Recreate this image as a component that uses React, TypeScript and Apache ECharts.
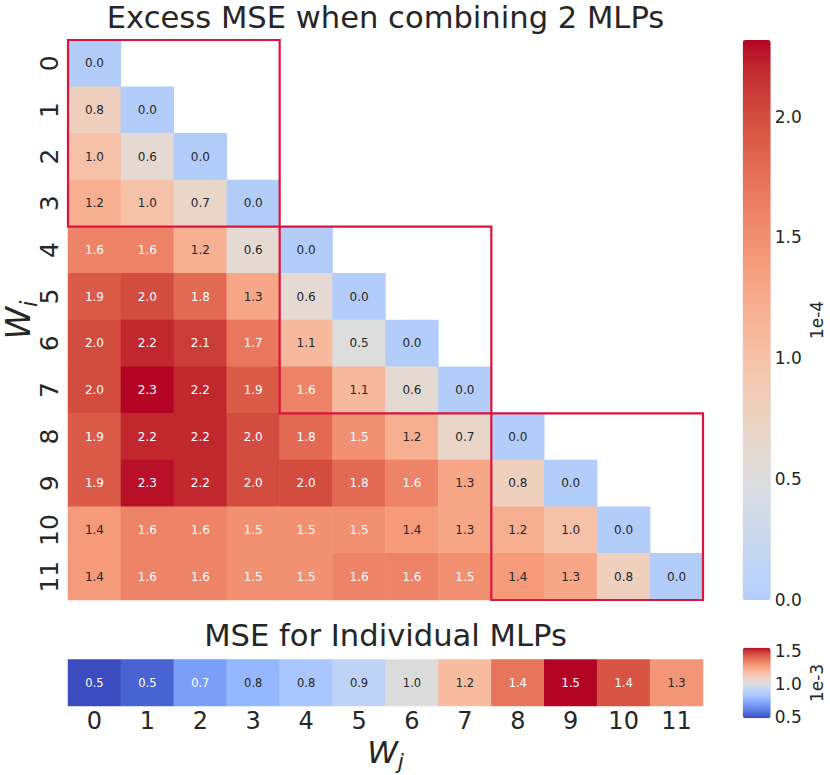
import React, { useEffect, useRef } from 'react';
import * as echarts from 'echarts';

// ---------------- data ----------------
const rowLabels = ['0', '1', '2', '3', '4', '5', '6', '7', '8', '9', '10', '11'];
const colLabels = ['0', '1', '2', '3', '4', '5', '6', '7', '8', '9', '10', '11'];

// Excess MSE (x1e-4), lower triangle, row i = W_i, column j = W_j
const excessRows: number[][] = [
  [0.0],
  [0.8, 0.0],
  [1.0, 0.6, 0.0],
  [1.2, 1.0, 0.7, 0.0],
  [1.6, 1.6, 1.2, 0.6, 0.0],
  [1.9, 2.0, 1.8, 1.3, 0.6, 0.0],
  [2.0, 2.2, 2.1, 1.7, 1.1, 0.5, 0.0],
  [2.0, 2.317, 2.2, 1.9, 1.6, 1.1, 0.6, 0.0],
  [1.9, 2.2, 2.2, 2.0, 1.8, 1.5, 1.2, 0.7, 0.0],
  [1.9, 2.28, 2.2, 2.0, 2.0, 1.8, 1.6, 1.3, 0.8, 0.0],
  [1.4, 1.6, 1.6, 1.5, 1.5, 1.5, 1.4, 1.3, 1.2, 1.0, 0.0],
  [1.4, 1.6, 1.6, 1.5, 1.5, 1.6, 1.6, 1.5, 1.4, 1.3, 0.8, 0.0],
];

// MSE for individual MLPs (x1e-3)
const individualMSE = [0.476, 0.53, 0.69, 0.77, 0.83, 0.9, 1.01, 1.18, 1.37, 1.549, 1.44, 1.29];

const mainTicks = [0, 0.5, 1.0, 1.5, 2.0];
const indivTicks = [0.5, 1.0, 1.5];
const blockGroups = [
  [0, 3],
  [4, 7],
  [8, 11],
];
const MAIN_MIN = 0;
const MAIN_MAX = 2.317;
const IND_MIN = 0.476;
const IND_MAX = 1.549;

// ---------------- colormap (coolwarm) ----------------
const CW = [
  [59, 76, 192], [68, 90, 204], [77, 104, 215], [87, 117, 225], [98, 130, 234], [108, 142, 241],
  [119, 154, 247], [130, 165, 251], [141, 176, 254], [152, 185, 255], [163, 194, 255], [174, 201, 253],
  [184, 208, 249], [194, 213, 244], [204, 217, 238], [213, 219, 230], [221, 221, 221], [229, 216, 209],
  [236, 211, 197], [241, 204, 185], [245, 196, 173], [247, 187, 160], [247, 177, 148], [247, 166, 135],
  [244, 154, 123], [241, 141, 111], [236, 127, 99], [229, 112, 88], [222, 96, 77], [213, 80, 66],
  [203, 62, 56], [192, 40, 47], [180, 4, 38],
];
function cw(t: number): number[] {
  const tt = Math.max(0, Math.min(1, t)) * (CW.length - 1);
  const i = Math.min(CW.length - 2, Math.floor(tt));
  const f = tt - i;
  return [0, 1, 2].map((k) => CW[i][k] + (CW[i + 1][k] - CW[i][k]) * f);
}
function hex(c: number[]): string {
  return '#' + c.map((v) => Math.round(v).toString(16).padStart(2, '0')).join('');
}
const MAIN_T0 = 0.36;
function sampleColors(t0: number, t1: number, n: number): string[] {
  const out: string[] = [];
  for (let k = 0; k < n; k++) out.push(hex(cw(t0 + ((t1 - t0) * k) / (n - 1))));
  return out;
}
const mainColors = sampleColors(MAIN_T0, 1, 48);
const indivColors = sampleColors(0, 1, 48);

function lum(c: number[]): number {
  const lin = c.map((v) => {
    const s = v / 255;
    return s <= 0.03928 ? s / 12.92 : Math.pow((s + 0.055) / 1.055, 2.4);
  });
  return 0.2126 * lin[0] + 0.7152 * lin[1] + 0.0722 * lin[2];
}
function textColor(c: number[]): string {
  return lum(c) > 0.408 ? '#262626' : '#ffffff';
}

const FONT = 'DejaVu Sans';
const TXT = '#262626';

const mainData: any[] = [];
excessRows.forEach((row, i) =>
  row.forEach((v, j) => {
    const c = cw(MAIN_T0 + ((1 - MAIN_T0) * (v - MAIN_MIN)) / (MAIN_MAX - MAIN_MIN));
    mainData.push({ value: [j, i, v], label: { color: textColor(c) } });
  })
);
const indivData = individualMSE.map((v, j) => {
  const c = cw((v - IND_MIN) / (IND_MAX - IND_MIN));
  return { value: [j, 0, v], label: { color: textColor(c) } };
});

// ---------------- layout ----------------
const G0 = { left: 68, top: 40, width: 635, height: 560 };
const G1 = { left: 68, top: 659.5, width: 635, height: 46.5 };
const CB0 = { left: 742.7, top: 40, width: 28, height: 560 };
const CB1 = { left: 742.7, top: 647.7, width: 28, height: 70.6 };

const hidden = { show: false };
const gridBase = { containLabel: false, outerBoundsMode: 'none' };

const option: any = {
  animation: false,
  backgroundColor: '#ffffff',
  textStyle: { fontFamily: FONT },
  grid: [
    { ...G0, ...gridBase },
    { ...G1, ...gridBase },
    { ...CB0, ...gridBase },
    { ...CB1, ...gridBase },
  ],
  xAxis: [
    {
      type: 'category',
      gridIndex: 0,
      data: colLabels,
      position: 'top',
      axisLine: hidden,
      axisTick: hidden,
      axisLabel: hidden,
      splitLine: hidden,
      name: 'Excess MSE when combining 2 MLPs',
      nameLocation: 'middle',
      nameGap: 8,
      nameMoveOverlap: false,
      nameTextStyle: { fontSize: 30.6, lineHeight: 30, color: TXT, fontFamily: FONT, verticalAlign: 'bottom' },
    },
    {
      type: 'category',
      gridIndex: 1,
      data: colLabels,
      position: 'bottom',
      axisLine: hidden,
      axisTick: hidden,
      splitLine: hidden,
      axisLabel: { fontSize: 24, color: TXT, fontFamily: FONT, margin: 3 },
      name: '{w|W}{s|j}',
      nameLocation: 'middle',
      nameGap: 30,
      nameTextStyle: {
        rich: {
          w: { fontSize: 31, fontStyle: 'italic', color: TXT, fontFamily: FONT, verticalAlign: 'bottom', padding: [0, 0, 5, 0] },
          s: { fontSize: 22, fontStyle: 'italic', color: TXT, fontFamily: FONT, verticalAlign: 'bottom' },
        },
      },
    },
    {
      type: 'category',
      gridIndex: 1,
      data: colLabels,
      position: 'top',
      axisLine: hidden,
      axisTick: hidden,
      axisLabel: hidden,
      splitLine: hidden,
      name: 'MSE for Individual MLPs',
      nameLocation: 'middle',
      nameGap: 9,
      nameMoveOverlap: false,
      nameTextStyle: { fontSize: 30.6, color: TXT, fontFamily: FONT, verticalAlign: 'bottom' },
    },
    { type: 'value', gridIndex: 2, show: false, min: 0, max: 1 },
    { type: 'value', gridIndex: 3, show: false, min: 0, max: 1 },
  ],
  yAxis: [
    {
      type: 'category',
      gridIndex: 0,
      data: rowLabels,
      inverse: true,
      axisLine: hidden,
      axisTick: hidden,
      splitLine: hidden,
      axisLabel: { fontSize: 25, color: TXT, fontFamily: FONT, rotate: 90, margin: 6 },
      name: '{w|W}{s|i}',
      nameLocation: 'middle',
      nameRotate: 90,
      nameGap: 28,
      nameMoveOverlap: false,
      nameTextStyle: {
        rich: {
          w: { fontSize: 33, fontStyle: 'italic', color: TXT, fontFamily: FONT, verticalAlign: 'bottom', padding: [0, 0, 5, 0] },
          s: { fontSize: 23, fontStyle: 'italic', color: TXT, fontFamily: FONT, verticalAlign: 'bottom' },
        },
      },
    },
    {
      type: 'category',
      gridIndex: 1,
      data: ['0'],
      show: false,
    },
    {
      type: 'value',
      gridIndex: 2,
      position: 'right',
      min: MAIN_MIN,
      max: MAIN_MAX,
      axisLine: hidden,
      axisTick: hidden,
      splitLine: hidden,
      axisLabel: {
        customValues: mainTicks,
        formatter: (v: number) => v.toFixed(1),
        fontSize: 17,
        color: TXT,
        fontFamily: FONT,
        margin: 4,
      },
      name: '1e-4',
      nameLocation: 'middle',
      nameRotate: 90,
      nameGap: 38,
      nameTextStyle: { fontSize: 17, color: TXT, fontFamily: FONT },
    },
    {
      type: 'value',
      gridIndex: 3,
      position: 'right',
      min: IND_MIN,
      max: IND_MAX,
      axisLine: hidden,
      axisTick: hidden,
      splitLine: hidden,
      axisLabel: {
        customValues: indivTicks,
        formatter: (v: number) => v.toFixed(1),
        fontSize: 17,
        color: TXT,
        fontFamily: FONT,
        margin: 4,
      },
      name: '1e-3',
      nameLocation: 'middle',
      nameRotate: 90,
      nameGap: 38,
      nameTextStyle: { fontSize: 17, color: TXT, fontFamily: FONT },
    },
  ],
  visualMap: [
    {
      type: 'continuous',
      seriesIndex: 0,
      min: MAIN_MIN,
      max: MAIN_MAX,
      orient: 'vertical',
      left: CB0.left,
      top: CB0.top,
      itemWidth: CB0.width,
      itemHeight: CB0.height,
      padding: 0,
      calculable: false,
      hoverLink: false,
      inRange: { color: mainColors },
    },
    {
      type: 'continuous',
      seriesIndex: 1,
      min: IND_MIN,
      max: IND_MAX,
      orient: 'vertical',
      left: CB1.left,
      top: CB1.top,
      itemWidth: CB1.width,
      itemHeight: CB1.height,
      padding: 0,
      calculable: false,
      hoverLink: false,
      inRange: { color: indivColors },
    },
  ],
  series: [
    {
      type: 'heatmap',
      xAxisIndex: 0,
      yAxisIndex: 0,
      data: mainData,
      label: {
        show: true,
        fontSize: 12,
        fontFamily: FONT,
        formatter: (p: any) => Number(p.value[2]).toFixed(1),
      },
      emphasis: { disabled: true },
    },
    {
      type: 'heatmap',
      xAxisIndex: 1,
      yAxisIndex: 1,
      data: indivData,
      label: {
        show: true,
        fontSize: 11.5,
        fontFamily: FONT,
        formatter: (p: any) => Number(p.value[2]).toFixed(1),
      },
      emphasis: { disabled: true },
    },
    {
      type: 'custom',
      xAxisIndex: 0,
      yAxisIndex: 0,
      data: blockGroups,
      z: 10,
      silent: true,
      renderItem: (params: any, api: any) => {
        const a = api.value(0);
        const b = api.value(1);
        const p0 = api.coord([a, a]);
        const p1 = api.coord([b, b]);
        const size = api.size([1, 1]);
        return {
          type: 'rect',
          shape: {
            x: p0[0] - size[0] / 2,
            y: p0[1] - size[1] / 2,
            width: p1[0] - p0[0] + size[0],
            height: p1[1] - p0[1] + size[1],
          },
          style: { fill: 'none', stroke: '#dc143c', lineWidth: 2.2 },
        };
      },
    },
  ],
};

export default function App() {
  const ref = useRef<HTMLDivElement>(null);
  useEffect(() => {
    document.body.style.margin = '0';
    const chart = echarts.init(ref.current!, null, { renderer: 'svg' });
    chart.setOption(option);
    return () => chart.dispose();
  }, []);
  return <div ref={ref} style={{ width: 830, height: 775 }} />;
}
